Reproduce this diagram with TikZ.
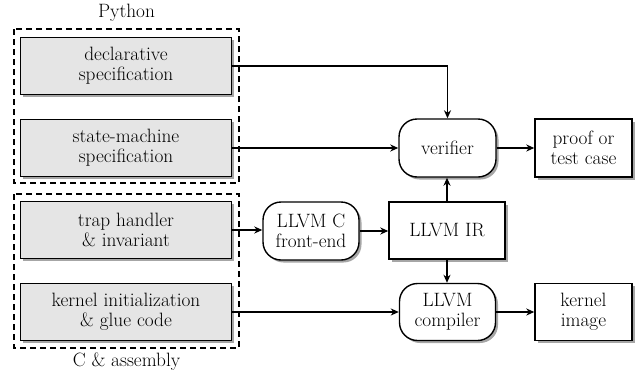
\documentclass[tikz,border=0pt]{standalone}
\usepackage{fontspec}
\usetikzlibrary{arrows.meta,shadows}
\begin{document}
\begin{tikzpicture}[x=1pt,y=-1pt,
  font=\fontsize{19.3}{20}\selectfont,
  base/.style={draw=black,line width=1.4pt,inner sep=0pt,align=center,
    drop shadow={shadow xshift=2.5pt,shadow yshift=-2.5pt,fill=black!35,opacity=1}},
  srcbox/.style={base,fill=gray!20,minimum width=211pt,minimum height=57pt},
  procbox/.style={base,fill=white,rounded corners=18pt,minimum width=96pt,minimum height=58pt},
  databox/.style={base,fill=white,minimum width=97pt,minimum height=58pt},
  grp/.style={draw=black,line width=1.2pt,dash pattern=on 6pt off 4pt},
  arr/.style={line width=1.4pt,-{Stealth[length=8pt,width=7pt,inset=2.5pt]}}]
\useasboundingbox (0,0) rectangle (636,375);
% groups
\draw[grp] (14,29) rectangle (239,183);
\draw[grp] (14,194) rectangle (239,348);
\node (py) at (126.5,13) {Python};
\node (ca) at (126.5,362) {C \& assembly};
% source boxes
\node[srcbox] (decl) at (126,66) {declarative\\specification};
\node[srcbox] (sm) at (126,148) {state-machine\\specification};
\node[srcbox] (trap) at (126,230) {trap handler\\\& invariant};
\node[srcbox] (kinit) at (126,312) {kernel initialization\\\& glue code};
% right side
\node[procbox,minimum width=97pt] (ver) at (447.5,148) {verifier};
\node[databox] (proof) at (583.5,148) {proof or\\test case};
\node[procbox] (fe) at (311,231) {LLVM C\\front-end};
\node[databox,minimum width=116pt,minimum height=57pt] (ir) at (447,230.5) {LLVM IR};
\node[procbox,minimum height=57pt] (comp) at (447.5,312) {LLVM\\compiler};
\node[databox,minimum height=57pt] (kimg) at (583.5,312) {kernel\\image};
% connectors
\draw[arr] (decl.east) -| (ver.north);
\draw[arr] (sm.east) -- (ver.west);
\draw[arr] (ver.east) -- (proof.west);
\draw[arr] (trap.east) -- (trap.east -| fe.west);
\draw[arr] (fe.east) -- (fe.east -| ir.west);
\draw[arr] (ir.north) -- (ir.north |- ver.south);
\draw[arr] (ir.south) -- (ir.south |- comp.north);
\draw[arr] (kinit.east) -- (comp.west);
\draw[arr] (comp.east) -- (kimg.west);
\end{tikzpicture}
\end{document}
